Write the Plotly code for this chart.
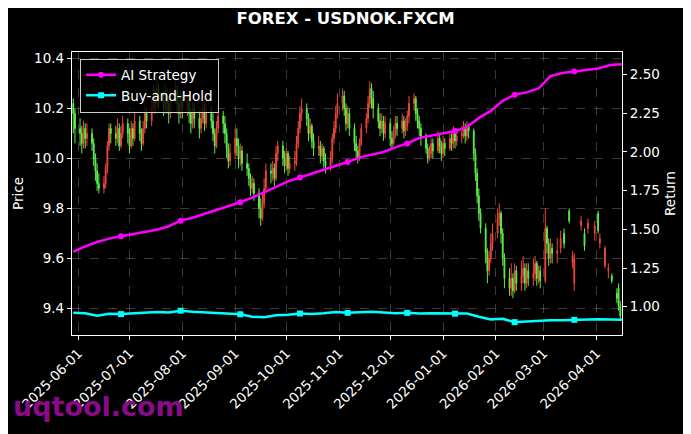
import pandas as pd
import plotly.graph_objects as go

# ---------------- data ----------------
candle_start = "2025-05-29"   # business-day candles

open_ = [
    10.22, 10.18,
    10.12, 10.10, 10.06, 10.12, 10.08,
    10.10, 10.06, 10.00, 9.95, 9.90,
    9.88, 9.90, 9.96, 10.05, 10.12,
    10.10, 10.08, 10.12, 10.05, 10.10,
    10.14, 10.10, 10.05, 10.12, 10.08,
    10.15, 10.10, 10.06, 10.12, 10.18,
    10.15, 10.20, 10.25, 10.22, 10.28,
    10.24, 10.20, 10.26, 10.22, 10.18,
    10.24, 10.27, 10.22, 10.18, 10.24,
    10.20, 10.22, 10.18, 10.14, 10.20,
    10.16, 10.12, 10.16, 10.20, 10.14,
    10.18, 10.15, 10.10, 10.05, 10.12,
    10.17, 10.14, 10.10, 10.04, 9.99,
    10.02, 10.08, 10.05, 10.00, 10.03,
    9.98, 9.96, 9.92, 9.88, 9.90,
    9.86, 9.80, 9.76, 9.82, 9.88,
    9.95, 9.94, 9.96, 9.92, 10.02,
    10.05, 10.00, 9.97, 10.02, 9.96,
    9.98, 9.99, 10.06, 10.12, 10.18,
    10.20, 10.16, 10.10, 10.13, 10.07,
    10.04, 10.05, 10.01, 10.04, 9.99,
    9.97, 10.00, 10.08, 10.12, 10.18,
    10.22, 10.25, 10.20, 10.14, 10.18,
    10.12, 10.06, 10.03, 10.00, 10.06,
    10.12, 10.16, 10.22, 10.28, 10.24,
    10.20, 10.15, 10.12, 10.15, 10.10,
    10.14, 10.08, 10.06, 10.10, 10.14,
    10.12, 10.15, 10.11, 10.13, 10.17,
    10.22, 10.24, 10.18, 10.15, 10.12,
    10.08, 10.04, 10.00, 10.02, 10.06,
    10.03, 10.08, 10.05, 10.02, 10.06,
    10.04, 10.08, 10.06, 10.10, 10.07,
    10.09, 10.10, 10.12, 10.09, 10.13,
    10.11, 10.02, 9.94, 9.85, 9.78,
    9.72, 9.62, 9.55, 9.60, 9.66,
    9.70, 9.76, 9.78, 9.70, 9.60,
    9.52, 9.48, 9.52, 9.47, 9.55,
    9.50, 9.53, 9.56, 9.50, 9.55,
    9.52, 9.54, 9.58, 9.52, 9.55,
    9.51, 9.72, 9.66, 9.60, 9.64,
    9.62, None, 9.64, None, 9.70,
    9.79, None, 9.58, 9.50, None,
    9.73, None, 9.70, None, 9.72,
    None, 9.70, None, 9.78, 9.66,
    9.57, None, 9.55, None, 9.53,
    9.46, 9.48, 9.41,
]

high = [
    10.24, 10.20,
    10.16, 10.13, 10.15, 10.14, 10.14,
    10.12, 10.08, 10.02, 9.98, 9.94,
    9.93, 9.98, 10.07, 10.14, 10.14,
    10.13, 10.16, 10.14, 10.13, 10.17,
    10.16, 10.12, 10.15, 10.14, 10.19,
    10.17, 10.12, 10.15, 10.21, 10.20,
    10.24, 10.30, 10.28, 10.33, 10.30,
    10.27, 10.30, 10.28, 10.24, 10.28,
    10.31, 10.29, 10.25, 10.27, 10.26,
    10.26, 10.24, 10.20, 10.23, 10.22,
    10.19, 10.20, 10.24, 10.22, 10.22,
    10.21, 10.18, 10.12, 10.15, 10.20,
    10.19, 10.17, 10.12, 10.06, 10.06,
    10.12, 10.12, 10.08, 10.06, 10.05,
    10.02, 9.98, 9.94, 9.93, 9.92,
    9.88, 9.84, 9.86, 9.92, 9.98,
    9.98, 9.99, 9.98, 10.05, 10.07,
    10.07, 10.03, 10.04, 10.03, 10.01,
    10.03, 10.09, 10.15, 10.21, 10.24,
    10.22, 10.18, 10.16, 10.14, 10.10,
    10.09, 10.07, 10.06, 10.05, 10.02,
    10.03, 10.10, 10.15, 10.21, 10.26,
    10.28, 10.27, 10.22, 10.21, 10.20,
    10.14, 10.09, 10.05, 10.08, 10.14,
    10.18, 10.25, 10.31, 10.30, 10.27,
    10.22, 10.18, 10.18, 10.17, 10.17,
    10.16, 10.11, 10.13, 10.17, 10.17,
    10.18, 10.17, 10.16, 10.19, 10.25,
    10.26, 10.25, 10.20, 10.17, 10.14,
    10.10, 10.06, 10.05, 10.08, 10.08,
    10.11, 10.10, 10.07, 10.09, 10.08,
    10.11, 10.10, 10.13, 10.12, 10.12,
    10.13, 10.15, 10.14, 10.15, 10.14,
    10.12, 10.04, 9.96, 9.88, 9.80,
    9.74, 9.64, 9.63, 9.70, 9.74,
    9.80, 9.82, 9.79, 9.72, 9.62,
    9.56, 9.58, 9.54, 9.58, 9.57,
    9.59, 9.61, 9.58, 9.58, 9.58,
    9.60, 9.61, 9.59, 9.57, 9.57,
    9.80, 9.73, 9.68, 9.68, 9.66,
    9.68, None, 9.71, None, 9.72,
    9.80, None, 9.63, 9.62, None,
    9.77, None, 9.72, None, 9.76,
    None, 9.75, None, 9.79, 9.70,
    9.65, None, 9.58, None, 9.54,
    9.48, 9.50, 9.43,
]

low = [
    10.10, 10.06,
    10.05, 10.02, 10.04, 10.04, 10.05,
    10.03, 9.97, 9.91, 9.87, 9.86,
    9.86, 9.88, 9.94, 10.03, 10.06,
    10.05, 10.06, 10.03, 10.04, 10.08,
    10.06, 10.02, 10.04, 10.05, 10.07,
    10.07, 10.03, 10.05, 10.10, 10.12,
    10.13, 10.18, 10.18, 10.20, 10.20,
    10.17, 10.18, 10.18, 10.14, 10.16,
    10.22, 10.18, 10.14, 10.16, 10.16,
    10.17, 10.14, 10.10, 10.12, 10.12,
    10.08, 10.10, 10.14, 10.11, 10.12,
    10.12, 10.07, 10.02, 10.04, 10.10,
    10.10, 10.06, 10.00, 9.96, 9.97,
    10.00, 10.01, 9.96, 9.97, 9.95,
    9.93, 9.89, 9.85, 9.86, 9.83,
    9.76, 9.73, 9.75, 9.80, 9.86,
    9.90, 9.91, 9.89, 9.91, 9.99,
    9.97, 9.94, 9.95, 9.93, 9.94,
    9.95, 9.97, 10.04, 10.10, 10.15,
    10.13, 10.07, 10.08, 10.04, 10.01,
    10.01, 9.98, 9.99, 9.96, 9.94,
    9.95, 9.98, 10.06, 10.10, 10.16,
    10.19, 10.17, 10.11, 10.12, 10.09,
    10.03, 10.00, 9.98, 9.99, 10.05,
    10.10, 10.14, 10.20, 10.20, 10.16,
    10.12, 10.09, 10.10, 10.07, 10.08,
    10.05, 10.04, 10.05, 10.08, 10.09,
    10.10, 10.08, 10.09, 10.11, 10.14,
    10.19, 10.15, 10.12, 10.09, 10.05,
    10.02, 9.98, 9.99, 10.00, 10.00,
    10.02, 10.02, 9.99, 10.00, 10.01,
    10.03, 10.03, 10.04, 10.04, 10.05,
    10.06, 10.08, 10.06, 10.07, 10.08,
    9.99, 9.91, 9.82, 9.75, 9.70,
    9.58, 9.50, 9.53, 9.58, 9.63,
    9.68, 9.73, 9.66, 9.57, 9.48,
    9.45, 9.45, 9.44, 9.46, 9.47,
    9.47, 9.50, 9.47, 9.48, 9.49,
    9.49, 9.51, 9.49, 9.50, 9.48,
    9.50, 9.62, 9.57, 9.58, 9.58,
    9.58, None, 9.62, None, 9.64,
    9.74, None, 9.56, 9.47, None,
    9.71, None, 9.63, None, 9.70,
    None, 9.67, None, 9.70, 9.64,
    9.56, None, 9.52, None, 9.50,
    9.42, 9.39, 9.35,
]

close = [
    10.18, 10.12,
    10.10, 10.06, 10.12, 10.08, 10.10,
    10.06, 10.00, 9.95, 9.90, 9.88,
    9.90, 9.96, 10.05, 10.12, 10.10,
    10.08, 10.12, 10.05, 10.10, 10.14,
    10.10, 10.05, 10.12, 10.08, 10.15,
    10.10, 10.06, 10.12, 10.18, 10.15,
    10.20, 10.25, 10.22, 10.28, 10.24,
    10.20, 10.26, 10.22, 10.18, 10.24,
    10.27, 10.22, 10.18, 10.24, 10.20,
    10.22, 10.18, 10.14, 10.20, 10.16,
    10.12, 10.16, 10.20, 10.14, 10.18,
    10.15, 10.10, 10.05, 10.12, 10.17,
    10.14, 10.10, 10.04, 9.99, 10.02,
    10.08, 10.05, 10.00, 10.03, 9.98,
    9.96, 9.92, 9.88, 9.90, 9.86,
    9.80, 9.76, 9.82, 9.88, 9.95,
    9.94, 9.96, 9.92, 10.02, 10.05,
    10.00, 9.97, 10.02, 9.96, 9.98,
    9.99, 10.06, 10.12, 10.18, 10.20,
    10.16, 10.10, 10.13, 10.07, 10.04,
    10.05, 10.01, 10.04, 9.99, 9.97,
    10.00, 10.08, 10.12, 10.18, 10.22,
    10.25, 10.20, 10.14, 10.18, 10.12,
    10.06, 10.03, 10.00, 10.06, 10.12,
    10.16, 10.22, 10.28, 10.24, 10.20,
    10.15, 10.12, 10.15, 10.10, 10.14,
    10.08, 10.06, 10.10, 10.14, 10.12,
    10.15, 10.11, 10.13, 10.17, 10.22,
    10.24, 10.18, 10.15, 10.12, 10.08,
    10.04, 10.00, 10.02, 10.06, 10.03,
    10.08, 10.05, 10.02, 10.06, 10.04,
    10.08, 10.06, 10.10, 10.07, 10.09,
    10.10, 10.12, 10.09, 10.13, 10.11,
    10.02, 9.94, 9.85, 9.78, 9.72,
    9.62, 9.55, 9.60, 9.66, 9.70,
    9.76, 9.78, 9.70, 9.60, 9.52,
    9.48, 9.52, 9.47, 9.55, 9.50,
    9.53, 9.56, 9.50, 9.55, 9.52,
    9.54, 9.58, 9.52, 9.55, 9.51,
    9.72, 9.66, 9.60, 9.64, 9.62,
    9.63, None, 9.68, None, 9.66,
    9.75, None, 9.61, 9.60, None,
    9.75, None, 9.65, None, 9.74,
    None, 9.73, None, 9.71, 9.68,
    9.64, None, 9.56, None, 9.51,
    9.44, 9.41, 9.37,
]

line_start = "2025-05-29"     # weekly points for the return curves
ai_strategy = [
    1.356, 1.390, 1.418, 1.440, 1.455, 1.470, 1.485, 1.497, 1.520, 1.556,
    1.575, 1.600, 1.625, 1.645, 1.675, 1.705, 1.740, 1.780, 1.810, 1.835,
    1.860, 1.880, 1.910, 1.935, 1.965, 1.985, 2.000, 2.030, 2.055, 2.090,
    2.105, 2.120, 2.135, 2.160, 2.220, 2.265, 2.330, 2.370, 2.385, 2.410,
    2.490, 2.510, 2.520, 2.530, 2.540, 2.562, 2.567,
]
buy_hold = [
    0.961, 0.958, 0.942, 0.955, 0.952, 0.956, 0.960, 0.966, 0.963, 0.974,
    0.968, 0.964, 0.960, 0.955, 0.951, 0.935, 0.932, 0.945, 0.948, 0.956,
    0.952, 0.958, 0.966, 0.960, 0.962, 0.968, 0.962, 0.957, 0.960, 0.956,
    0.958, 0.957, 0.955, 0.956, 0.935, 0.918, 0.922, 0.900, 0.905, 0.910,
    0.913, 0.912, 0.915, 0.916, 0.919, 0.917, 0.915,
]

x_ticks = ["2025-06-01", "2025-07-01", "2025-08-01", "2025-09-01", "2025-10-01",
           "2025-11-01", "2025-12-01", "2026-01-01", "2026-02-01", "2026-03-01",
           "2026-04-01"]
price_ticks = [9.4, 9.6, 9.8, 10.0, 10.2, 10.4]
return_ticks = [1.00, 1.25, 1.50, 1.75, 2.00, 2.25, 2.50]

# ---------------- build ----------------
cdates = pd.bdate_range(candle_start, periods=len(close))
df = pd.DataFrame({"date": cdates, "open": open_, "high": high, "low": low, "close": close}).dropna()

ldates = pd.date_range(line_start, periods=len(ai_strategy), freq="7D")
marker_idx = [4, 9, 14, 19, 23, 28, 32, 37, 42]

FONT = "DejaVu Sans"
MAG = "#ff00ff"
CYAN = "#00ffff"
UP = "#f0473a"
DOWN = "#5cf04a"

fig = go.Figure()
fig.add_trace(go.Candlestick(
    x=df["date"], open=df["open"], high=df["high"], low=df["low"], close=df["close"],
    increasing=dict(line=dict(color=UP, width=1), fillcolor=UP),
    decreasing=dict(line=dict(color=DOWN, width=1), fillcolor=DOWN),
    whiskerwidth=0, showlegend=False, yaxis="y", hoverinfo="skip"))

for name, vals, col, sym in [("AI Strategy", ai_strategy, MAG, "circle"),
                             ("Buy-and-Hold", buy_hold, CYAN, "square")]:
    fig.add_trace(go.Scatter(x=ldates, y=vals, mode="lines", yaxis="y2",
                             line=dict(color=col, width=2.5), showlegend=False))
    fig.add_trace(go.Scatter(x=[ldates[i] for i in marker_idx], y=[vals[i] for i in marker_idx],
                             mode="markers", yaxis="y2",
                             marker=dict(color=col, size=6, symbol=sym), showlegend=False))
    fig.add_trace(go.Scatter(x=[None], y=[None], mode="lines+markers", yaxis="y2", name=name,
                             line=dict(color=col, width=2.5),
                             marker=dict(color=col, size=6, symbol=sym)))

grid = "rgba(170,170,170,0.35)"
axis_common = dict(showline=True, linecolor="white", linewidth=1.3, ticks="outside",
                   tickcolor="white", ticklen=4, tickwidth=1, automargin=False,
                   tickfont=dict(family=FONT, size=13.5, color="white"), zeroline=False)

# the page body adds an 8px offset, so the figure is 8px smaller on each axis
W, H = 683, 426
fig.update_layout(
    width=W, height=H, autosize=False,
    paper_bgcolor="black", plot_bgcolor="black",
    margin=dict(l=64, r=69, t=44, b=99),
    font=dict(family=FONT, color="white", size=13.5),
    title=dict(text="<b>FOREX - USDNOK.FXCM</b>", x=(345.5 - 8) / W, xanchor="center",
               y=1 - 10 / H, yanchor="middle", yref="container",
               font=dict(family=FONT, size=16.5, color="white")),
    xaxis=dict(type="date", range=["2025-05-28 06:00", "2026-04-16"],
               tickvals=x_ticks, ticktext=x_ticks, tickangle=-45,
               rangeslider=dict(visible=False), mirror=True,
               showgrid=True, gridcolor=grid, griddash="dash", gridwidth=0.8,
               **axis_common),
    yaxis=dict(range=[9.293, 10.426], tickvals=price_ticks, tickformat=".1f",
               title=dict(text="Price", standoff=7, font=dict(family=FONT, size=13.5)),
               mirror=True, showgrid=True, gridcolor=grid, griddash="dash", gridwidth=0.8,
               **axis_common),
    yaxis2=dict(range=[0.817, 2.646], tickvals=return_ticks, tickformat=".2f",
                overlaying="y", side="right", showgrid=False,
                title=dict(text="Return", standoff=6, font=dict(family=FONT, size=13.5)),
                **axis_common),
    legend=dict(x=0.0146, y=0.977, xanchor="left", yanchor="top",
                bgcolor="rgba(0,0,0,0.8)", bordercolor="#cccccc", borderwidth=1,
                font=dict(family=FONT, size=13.5, color="white"), itemwidth=30),
    annotations=[dict(text="<b>uqtool.com</b>", xref="paper", yref="paper",
                      x=-0.111, y=-0.254, xanchor="left", yanchor="middle", showarrow=False,
                      font=dict(family=FONT, size=27, color="#8a0a8a"))],
)

fig.write_html("out.html")
